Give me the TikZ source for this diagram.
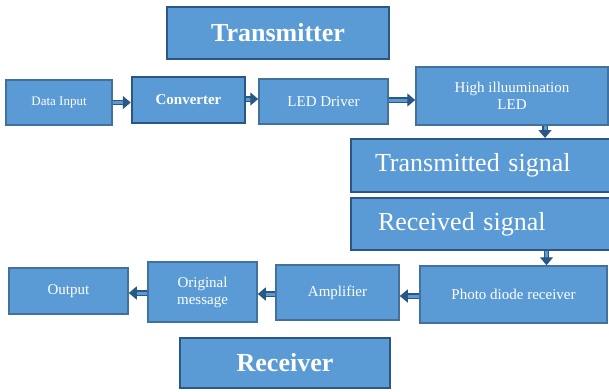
\documentclass[tikz,border=0pt]{standalone}
\usepackage{fontspec}
\setmainfont{Liberation Serif}
\usetikzlibrary{arrows.meta}
\definecolor{boxfill}{HTML}{5B9BD5}
\definecolor{boxline}{HTML}{41719C}
\definecolor{boxdark}{HTML}{2A5783}
\begin{document}
\begin{tikzpicture}[x=1pt,y=-1pt,
    blk/.style={draw=boxline,line width=1.5pt,fill=boxfill,text=white,align=center,inner sep=0pt,
      font=\fontsize{15}{17}\selectfont},
    head/.style={blk,draw=boxdark,line width=2pt,font=\fontsize{26}{30}\selectfont\bfseries},
    sig/.style={blk,draw=boxdark,line width=2pt,align=left,font=\fontsize{26}{30}\selectfont},
    link/.style={draw=boxdark,double=boxfill,double distance=3pt,line width=1.4pt,
      -{Triangle[length=8pt,width=13pt]}}]
  \useasboundingbox (0,0) rectangle (609,391);
  % transmitter side
  \node[head,minimum width=222pt,minimum height=52pt] (trans) at (278,33) {Transmitter};
  \node[blk,minimum width=106pt,minimum height=45pt,font=\fontsize{13}{15}\selectfont] (datain) at (59,102.5) {Data Input};
  \node[blk,draw=boxdark,line width=2.5pt,minimum width=113pt,minimum height=46pt,font=\fontsize{15}{17}\selectfont\bfseries] (conv) at (188.5,100) {Converter};
  \node[blk,minimum width=129pt,minimum height=45pt] (driver) at (323.5,101.5) {LED Driver};
  \node[blk,minimum width=192pt,minimum height=58pt] (led) at (512,96) {High illuumination\\LED};
  \node[sig,minimum width=262pt,minimum height=53pt,text width=214pt] (tsig) at (482,165.5) {Transmitted signal};
  % receiver side
  \node[sig,minimum width=262pt,minimum height=52pt,text width=208pt] (rsig) at (482,224) {Received signal};
  \node[blk,minimum width=187pt,minimum height=57pt] (photo) at (513.5,294.5) {Photo diode receiver};
  \node[blk,minimum width=123pt,minimum height=55pt] (amp) at (337.5,292.5) {Amplifier};
  \node[blk,minimum width=109pt,minimum height=60pt] (orig) at (202.5,292) {Original\\message};
  \node[blk,minimum width=119pt,minimum height=46pt] (out) at (68.5,291) {Output};
  \node[head,minimum width=210pt,minimum height=50pt] (recv) at (285,363) {Receiver};
  % connectors
  \draw[link] (datain.east) -- (datain.east -| conv.west);
  \draw[link] ([yshift=1pt]conv.east) -- ([yshift=1pt]conv.east -| driver.west);
  \draw[link] ([yshift=1.5pt]driver.east) -- ([yshift=1.5pt]driver.east -| led.west);
  \draw[link] ([xshift=33pt]led.south) -- ([xshift=33pt]led.south |- tsig.north);
  \draw[link] ([xshift=33pt]photo.north |- rsig.south) -- ([xshift=33pt]photo.north);
  \draw[link] ([yshift=-1.5pt]photo.west) -- ([yshift=-1.5pt]photo.west -| amp.east);
  \draw[link] ([yshift=-1.5pt]amp.west) -- ([yshift=-1.5pt]amp.west -| orig.east);
  \draw[link] ([yshift=-1pt]orig.west) -- ([yshift=-1pt]orig.west -| out.east);
\end{tikzpicture}
\end{document}
